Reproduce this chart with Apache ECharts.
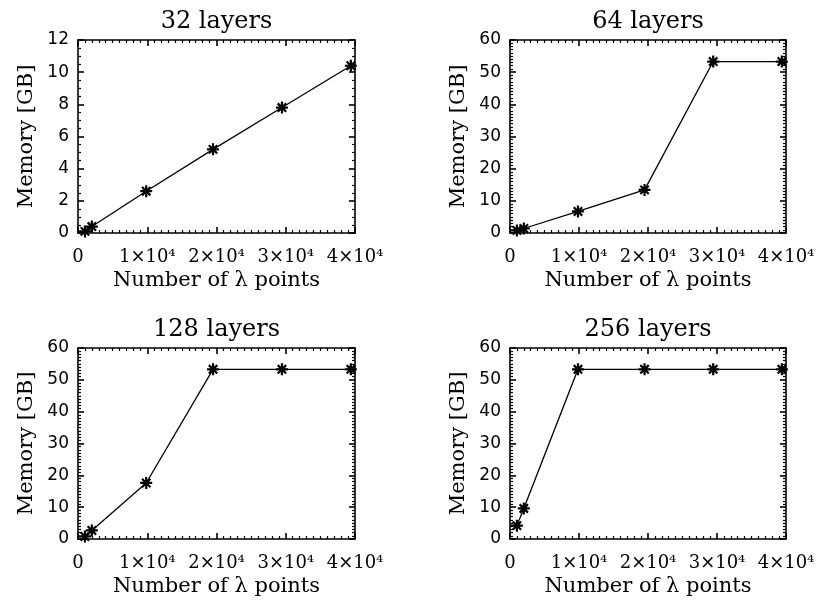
<!DOCTYPE html>
<html>
<head>
<meta charset="utf-8">
<script src="https://cdn.jsdelivr.net/npm/echarts@6/dist/echarts.min.js"></script>
<style>
  html, body { margin: 0; padding: 0; background: #fff; }
  #panel { width: 818px; height: 604px; }
</style>
</head>
<body>
<div id="panel"></div>
<script>
  // number of lambda points (same for all panels)
  const lambdaPoints = [1000, 2000, 9850, 19500, 29450, 39400];
  // memory in GB per layer count
  const mem32 = [0.1, 0.4, 2.6, 5.2, 7.8, 10.4];
  const mem64 = [0.8, 1.4, 6.7, 13.4, 53.3, 53.3];
  const mem128 = [0.8, 2.7, 17.6, 53.3, 53.3, 53.3];
  const mem256 = [4.2, 9.6, 53.3, 53.3, 53.3, 53.3];
  const titles = ['32 layers', '64 layers', '128 layers', '256 layers'];
  const yMax = [12, 60, 60, 60];
  const yStep = [2, 10, 10, 10];
  const yMinor = [4, 10, 10, 10];

  const allMem = [mem32, mem64, mem128, mem256];

  const boxes = [
    { left: 78, top: 40, width: 277, height: 193 },
    { left: 510, top: 40, width: 276, height: 193 },
    { left: 78, top: 348, width: 277, height: 191 },
    { left: 510, top: 348, width: 276, height: 191 }
  ];

  const serif = 'DejaVu Serif';
  const sans = 'DejaVu Sans';
  const ink = '#000';

  // IDL style asterisk
  const star = 'path://M0,-10L0,10M-10,0L10,0M-7,-7L7,7M-7,7L7,-7';

  const lineStyle = { color: ink, width: 1.6 };
  const minorStyle = { color: ink, width: 1.2 };

  let grid = [], xAxis = [], yAxis = [], series = [];

  boxes.forEach((b, i) => {
    grid.push(Object.assign({}, b));

    // bottom axis
    xAxis.push({
      gridIndex: i, type: 'value', position: 'bottom',
      min: 0, max: 40000, interval: 10000,
      name: 'Number of λ points', nameLocation: 'middle', nameGap: 37,
      nameTextStyle: { fontFamily: serif, fontSize: 21, color: ink },
      axisLine: { show: true, onZero: false, lineStyle: lineStyle },
      axisTick: { show: true, inside: true, length: 6, lineStyle: lineStyle },
      minorTick: { show: true, splitNumber: 10, length: 3, lineStyle: minorStyle },
      splitLine: { show: false },
      axisLabel: {
        margin: 15, fontFamily: serif, fontSize: 18, color: ink,
        showMinLabel: true, showMaxLabel: true,
        formatter: v => v === 0 ? '0' : (v / 10000) + '×10⁴'
      }
    });
    // top axis, mirror ticks and the title
    xAxis.push({
      gridIndex: i, type: 'value', position: 'top',
      min: 0, max: 40000, interval: 10000,
      name: titles[i], nameLocation: 'middle', nameGap: 6,
      nameTextStyle: { fontFamily: serif, fontSize: 24, color: ink, verticalAlign: 'bottom' },
      axisLine: { show: true, onZero: false, lineStyle: lineStyle },
      axisTick: { show: true, inside: true, length: 6, lineStyle: lineStyle },
      minorTick: { show: true, splitNumber: 10, length: 3, lineStyle: minorStyle },
      splitLine: { show: false },
      axisLabel: { show: false }
    });

    yAxis.push({
      gridIndex: i, type: 'value', position: 'left',
      min: 0, max: yMax[i], interval: yStep[i],
      name: 'Memory [GB]', nameLocation: 'middle', nameGap: 41,
      nameTextStyle: { fontFamily: serif, fontSize: 21, color: ink },
      axisLine: { show: true, onZero: false, lineStyle: lineStyle },
      axisTick: { show: true, inside: true, length: 6, lineStyle: lineStyle },
      minorTick: { show: true, splitNumber: yMinor[i], length: 3, lineStyle: minorStyle },
      splitLine: { show: false },
      axisLabel: { margin: 9, fontFamily: sans, fontSize: 17, color: ink }
    });
    yAxis.push({
      gridIndex: i, type: 'value', position: 'right',
      min: 0, max: yMax[i], interval: yStep[i],
      axisLine: { show: true, onZero: false, lineStyle: lineStyle },
      axisTick: { show: true, inside: true, length: 6, lineStyle: lineStyle },
      minorTick: { show: true, splitNumber: yMinor[i], length: 3, lineStyle: minorStyle },
      splitLine: { show: false },
      axisLabel: { show: false }
    });

    series.push({
      name: titles[i],
      type: 'line',
      xAxisIndex: i * 2,
      yAxisIndex: i * 2,
      data: lambdaPoints.map((x, k) => [x, allMem[i][k]]),
      symbol: star,
      symbolSize: 12,
      showAllSymbol: true,
      lineStyle: { color: ink, width: 1.3 },
      itemStyle: { color: ink, borderColor: ink, borderWidth: 2.2 },
      clip: false,
      animation: false
    });
  });

  let panel = echarts.init(document.getElementById('panel'));
  panel.setOption({
    animation: false,
    backgroundColor: '#fff',
    grid: grid,
    xAxis: xAxis,
    yAxis: yAxis,
    series: series
  });
</script>
</body>
</html>
